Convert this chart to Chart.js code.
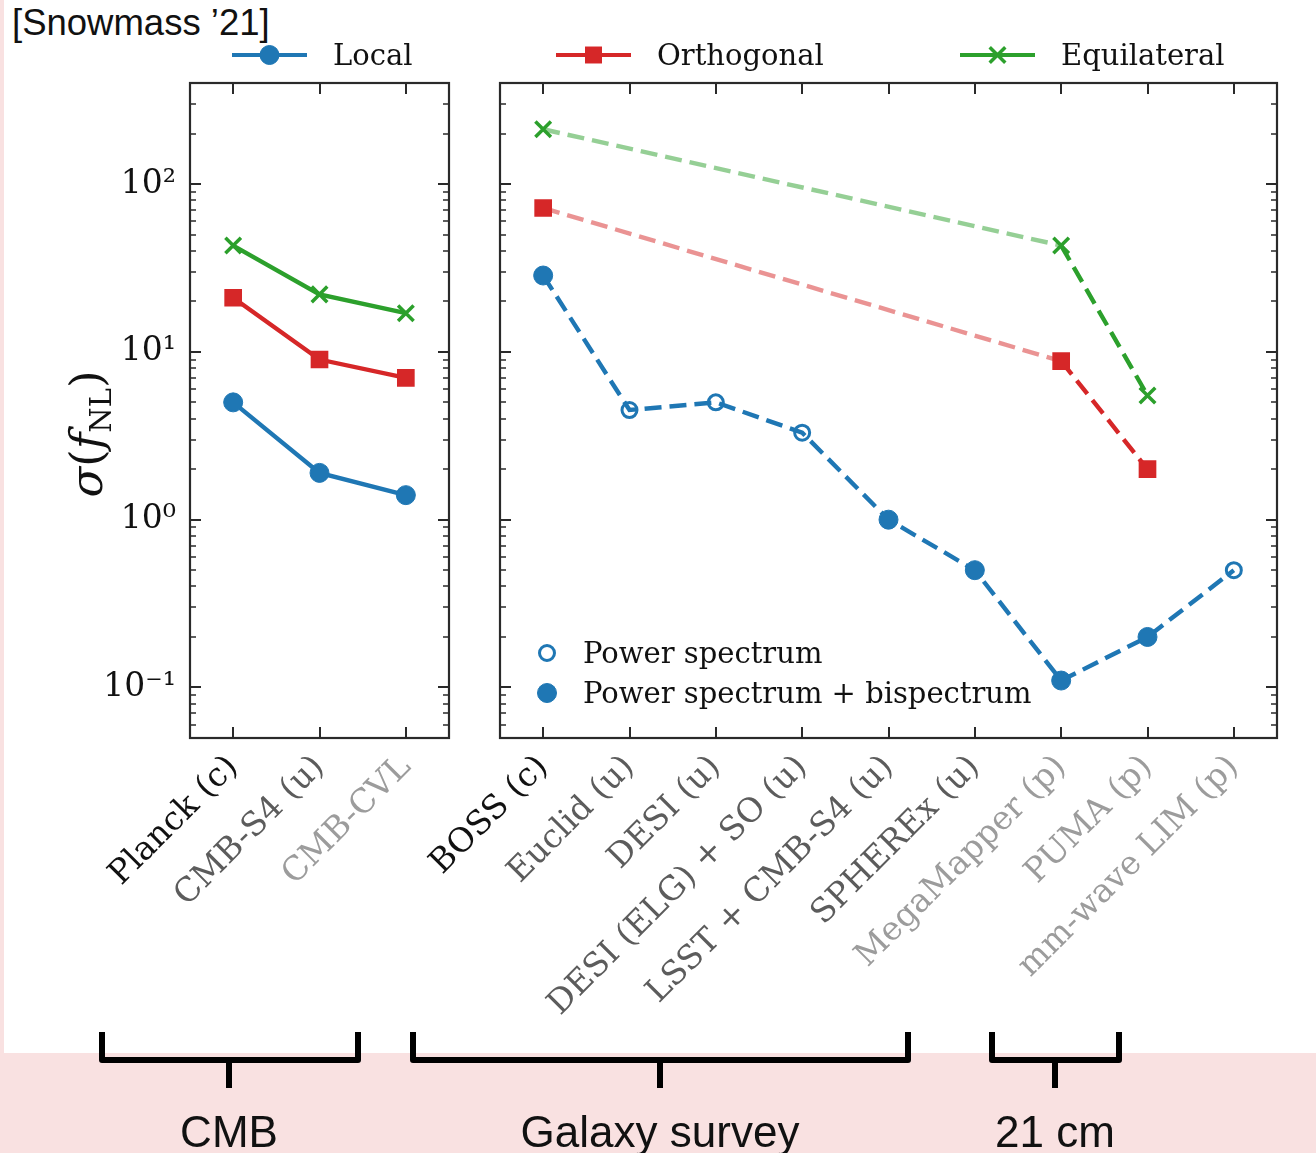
<!DOCTYPE html>
<html>
<head>
<meta charset="utf-8">
<script src="https://cdn.jsdelivr.net/npm/chart.js@4.4.1/dist/chart.umd.min.js"></script>
<style>
html, body { margin: 0; padding: 0; }
body { width: 1316px; height: 1153px; background: #f9e1e1; position: relative; overflow: hidden; }
#sheet { position: absolute; left: 4px; top: 0; width: 1312px; height: 1053px; background: #fff; }
.cv { position: absolute; left: 0; top: 0; }
#tag { position: absolute; left: 12px; top: 2px; font: 36.5px "Liberation Sans", Arial, sans-serif; color: #111; }
</style>
</head>
<body>
<div id="sheet"></div>
<div id="tag">[Snowmass ’21]</div>
<canvas id="right" class="cv" width="1316" height="1053"></canvas>
<canvas id="left" class="cv" width="1316" height="1053"></canvas>
<canvas id="braces" class="cv" width="1316" height="1153"></canvas>
<script>
// ---- data ----
var cmbLabels = ['Planck (c)', 'CMB-S4 (u)', 'CMB-CVL'];
var cmbLocal = [5.0, 1.9, 1.4];
var cmbOrtho = [21, 9.0, 7.0];
var cmbEquil = [43, 22, 17];

var lssLabels = ['BOSS (c)', 'Euclid (u)', 'DESI (u)', 'DESI (ELG) + SO (u)', 'LSST + CMB-S4 (u)',
                 'SPHEREx (u)', 'MegaMapper (p)', 'PUMA (p)', 'mm-wave LIM (p)'];
var lssLocal = [28.5, 4.5, 5.0, 3.3, 1.0, 0.5, 0.11, 0.2, 0.5];
// true = power spectrum + bispectrum (filled), false = power spectrum only (open)
var lssBispec = [true, false, false, false, true, true, true, true, false];
var lssOrtho = [72, null, null, null, null, null, 8.8, 2.0, null];
var lssEquil = [212, null, null, null, null, null, 43, 5.5, null];

var yTickValues = [0.1, 1, 10, 100];
var yTickLabels = ['10\u207B\u00B9', '10\u2070', '10\u00B9', '10\u00B2'];
var Y_MIN = 0.05, Y_MAX = 400;

var seriesNames = ['Local', 'Orthogonal', 'Equilateral'];

// ---- styles ----
var BLUE = '#1f77b4', RED = '#d62728', GREEN = '#2ca02c';
var RED_FADED = 'rgba(214,39,40,0.5)', GREEN_FADED = 'rgba(44,160,44,0.5)';
var BLACK_LBL = '#111111', GREY_LBL = '#5c5c5c', LIGHT_LBL = '#9c9c9c';
var SERIF = '"DejaVu Serif", serif';

// the BOSS -> MegaMapper stretch is drawn faded
var fadeEnd = lssLabels.indexOf('MegaMapper (p)');

function labelColor(lbl) {
    if (lbl.indexOf('(c)') >= 0) return BLACK_LBL;
    if (lbl.indexOf('(u)') >= 0) return GREY_LBL;
    return LIGHT_LBL;
}

function yScale(showLabels, width) {
    return {
        type: 'logarithmic', min: Y_MIN, max: Y_MAX, bounds: 'data',
        grid: {display: false, drawTicks: false},
        border: {display: false},
        afterBuildTicks: function(s) {
            s.ticks = yTickValues.map(function(v) { return {value: v}; });
        },
        afterFit: function(s) { s.width = width; },
        ticks: {
            display: showLabels, padding: 14, color: BLACK_LBL,
            font: {family: SERIF, size: 33},
            callback: function(v) {
                var i = yTickValues.indexOf(v);
                return i >= 0 ? yTickLabels[i] : '';
            }
        }
    };
}

function xScale(labels) {
    return {
        type: 'category', labels: labels, offset: true,
        grid: {display: false, drawTicks: false},
        border: {display: false},
        afterFit: function(s) { s.height = 315; },
        ticks: {
            autoSkip: false, maxRotation: 45, minRotation: 45, padding: 10,
            font: {family: SERIF, size: 33},
            color: function(c) { return labelColor(labels[c.index]); }
        }
    };
}

// inward ticks on all four sides + panel frame
var axesFrame = {
    id: 'axesFrame',
    beforeDatasetsDraw: function(chart) {
        var ctx = chart.ctx, a = chart.chartArea;
        var x = chart.scales.x, y = chart.scales.y;
        ctx.save();
        ctx.strokeStyle = '#2a2a2a';
        for (var e = -2; e <= 3; e++) {
            for (var m = 1; m <= 9; m++) {
                var v = m * Math.pow(10, e);
                if (v < Y_MIN || v > Y_MAX) continue;
                var py = Math.round(y.getPixelForValue(v));
                var len = m === 1 ? 11 : 6;
                ctx.lineWidth = m === 1 ? 2 : 1.5;
                ctx.beginPath();
                ctx.moveTo(a.left, py); ctx.lineTo(a.left + len, py);
                ctx.moveTo(a.right, py); ctx.lineTo(a.right - len, py);
                ctx.stroke();
            }
        }
        ctx.lineWidth = 2;
        ctx.beginPath();
        for (var i = 0; i < x.ticks.length; i++) {
            var px = Math.round(x.getPixelForTick(i));
            ctx.moveTo(px, a.bottom); ctx.lineTo(px, a.bottom - 11);
            ctx.moveTo(px, a.top); ctx.lineTo(px, a.top + 11);
        }
        ctx.stroke();
        ctx.lineWidth = 2.2;
        ctx.strokeRect(a.left, a.top, a.right - a.left, a.bottom - a.top);
        ctx.restore();
    }
};

// sigma(f_NL) axis title
var yTitle = {
    id: 'yTitle',
    afterDraw: function(chart) {
        var ctx = chart.ctx;
        var parts = [
            {t: '\u03C3', f: 'italic 45px ' + SERIF, dy: 0},
            {t: '(', f: '45px ' + SERIF, dy: 0},
            {t: 'f', f: 'italic 45px ' + SERIF, dy: 0},
            {t: 'NL', f: '29px ' + SERIF, dy: 9},
            {t: ')', f: '45px ' + SERIF, dy: 0}
        ];
        ctx.save();
        var total = 0;
        parts.forEach(function(p) { ctx.font = p.f; p.w = ctx.measureText(p.t).width; total += p.w; });
        ctx.translate(102, 434);
        ctx.rotate(-Math.PI / 2);
        ctx.fillStyle = BLACK_LBL;
        ctx.textBaseline = 'alphabetic';
        var cx = -total / 2;
        parts.forEach(function(p) { ctx.font = p.f; ctx.fillText(p.t, cx, p.dy); cx += p.w; });
        ctx.restore();
    }
};

function drawMarker(ctx, style, r, bw, x, y, color, fill) {
    ctx.fillStyle = fill;
    ctx.strokeStyle = color;
    ctx.lineWidth = bw || 1;
    Chart.helpers.drawPoint(ctx, {pointStyle: style, radius: r, borderWidth: bw, rotation: 0}, x, y);
}

// shared top legend + inner marker legend
var legends = {
    id: 'legends',
    afterDraw: function(chart) {
        var ctx = chart.ctx;
        var starts = [232, 556, 960];
        var cols = [BLUE, RED, GREEN];
        var styles = [['circle', 9.5, 1], ['rect', 12, 0], ['crossRot', 11, 3.5]];
        ctx.save();
        ctx.font = '29px ' + SERIF;
        ctx.textBaseline = 'middle';
        for (var i = 0; i < 3; i++) {
            var x0 = starts[i], ly = 55;
            ctx.strokeStyle = cols[i]; ctx.lineWidth = 4;
            ctx.beginPath(); ctx.moveTo(x0, ly); ctx.lineTo(x0 + 75, ly); ctx.stroke();
            drawMarker(ctx, styles[i][0], styles[i][1], styles[i][2], x0 + 37.5, ly, cols[i], cols[i]);
            ctx.fillStyle = BLACK_LBL;
            ctx.fillText(seriesNames[i], x0 + 101, ly + 2);
        }
        drawMarker(ctx, 'circle', 7.5, 3, 547, 653, BLUE, 'rgba(0,0,0,0)');
        drawMarker(ctx, 'circle', 9.5, 1, 547, 693, BLUE, BLUE);
        ctx.fillStyle = BLACK_LBL;
        ctx.fillText('Power spectrum', 583, 655);
        ctx.fillText('Power spectrum + bispectrum', 583, 695);
        ctx.restore();
    }
};

function baseOptions(labels, yWidth, showY, padRight) {
    return {
        responsive: false, animation: false, events: [],
        layout: {padding: {left: 0, right: padRight, top: 83, bottom: 0}},
        plugins: {legend: {display: false}, tooltip: {enabled: false}},
        elements: {line: {tension: 0, borderWidth: 4.4}},
        scales: {x: xScale(labels), y: yScale(showY, yWidth)}
    };
}

// CMB panel
new Chart(document.getElementById('left'), {
    type: 'line',
    data: {
        labels: cmbLabels,
        datasets: [
            {label: seriesNames[0], data: cmbLocal, borderColor: BLUE, backgroundColor: BLUE,
             pointStyle: 'circle', pointRadius: 9.5, pointBorderWidth: 1},
            {label: seriesNames[1], data: cmbOrtho, borderColor: RED, backgroundColor: RED,
             pointStyle: 'rect', pointRadius: 12.5, pointBorderWidth: 0},
            {label: seriesNames[2], data: cmbEquil, borderColor: GREEN, backgroundColor: GREEN,
             pointStyle: 'crossRot', pointRadius: 11, pointBorderWidth: 3.5}
        ]
    },
    options: baseOptions(cmbLabels, 190, true, 867),
    plugins: [axesFrame, yTitle]
});

// LSS / 21cm panel
var DASH = [17, 8];
function fadedColor(solid, faded) {
    return function(c) { return c.p1DataIndex <= fadeEnd ? faded : solid; };
}
new Chart(document.getElementById('right'), {
    type: 'line',
    data: {
        labels: lssLabels,
        datasets: [
            {label: seriesNames[0], data: lssLocal, borderColor: BLUE, borderDash: DASH,
             pointStyle: 'circle',
             pointBackgroundColor: lssBispec.map(function(b) { return b ? BLUE : 'rgba(0,0,0,0)'; }),
             pointRadius: lssBispec.map(function(b) { return b ? 9.5 : 7.5; }),
             pointBorderWidth: lssBispec.map(function(b) { return b ? 1 : 3; })},
            {label: seriesNames[1], data: lssOrtho, borderColor: RED, backgroundColor: RED, borderDash: DASH,
             spanGaps: true, pointStyle: 'rect', pointRadius: 12.5, pointBorderWidth: 0,
             segment: {borderColor: fadedColor(RED, RED_FADED)}},
            {label: seriesNames[2], data: lssEquil, borderColor: GREEN, backgroundColor: GREEN, borderDash: DASH,
             spanGaps: true, pointStyle: 'crossRot', pointRadius: 11, pointBorderWidth: 3.5,
             segment: {borderColor: fadedColor(GREEN, GREEN_FADED)}}
        ]
    },
    options: baseOptions(lssLabels, 500, false, 39),
    plugins: [axesFrame, legends]
});

// group braces under the axis labels
var groups = [
    {name: 'CMB', x0: 102, x1: 358, xc: 229},
    {name: 'Galaxy survey', x0: 413, x1: 908, xc: 660},
    {name: '21 cm', x0: 992, x1: 1119, xc: 1055}
];
(function() {
    var ctx = document.getElementById('braces').getContext('2d');
    ctx.strokeStyle = '#000';
    ctx.lineWidth = 6;
    ctx.lineJoin = 'round';
    groups.forEach(function(g) {
        ctx.beginPath();
        ctx.moveTo(g.x0, 1032); ctx.lineTo(g.x0, 1060); ctx.lineTo(g.x1, 1060); ctx.lineTo(g.x1, 1032);
        ctx.moveTo(g.xc, 1060); ctx.lineTo(g.xc, 1088);
        ctx.stroke();
    });
    ctx.fillStyle = '#111';
    ctx.font = '44px "Liberation Sans", Arial, sans-serif';
    ctx.textAlign = 'center';
    ctx.textBaseline = 'alphabetic';
    groups.forEach(function(g) { ctx.fillText(g.name, g.xc, 1147); });
})();
</script>
</body>
</html>
